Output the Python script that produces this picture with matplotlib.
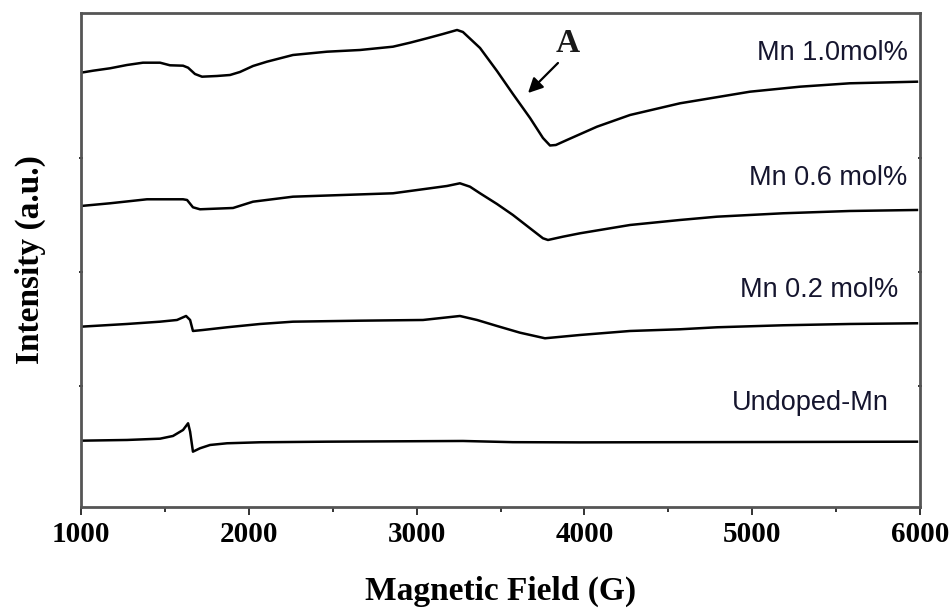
import matplotlib
matplotlib.use("Agg")
import matplotlib.pyplot as plt
from matplotlib.ticker import MultipleLocator

# ---- data (Magnetic field in G, intensity in arbitrary units) ----
field_mn10 = [1000, 1072, 1173, 1274, 1369, 1471, 1530, 1608, 1638, 1679, 1721, 1810, 1888,
              1947, 2025, 2108, 2263, 2466, 2663, 2859, 2961, 3062, 3157, 3241, 3276, 3378,
              3479, 3574, 3676, 3753, 3795, 3830, 3896, 4075, 4272, 4570, 4689, 4987,
              5285, 5582, 5982]
int_mn10 = [434.3, 436.3, 438.7, 442.0, 444.3, 444.3, 441.7, 441.3, 439.3, 433.0, 430.3, 431.0,
            432.0, 435.0, 441.0, 445.3, 452.0, 455.3, 457.0, 460.3, 464.3, 468.7, 473.0, 477.0,
            475.0, 459.0, 436.0, 413.0, 389.0, 369.0, 361.5, 362.0, 367.0, 380.3, 392.0,
            403.7, 407.0, 415.3, 420.3, 423.7, 425.3]

field_mn06 = [1000, 1173, 1393, 1608, 1632, 1667, 1709, 1906, 2025, 2263, 2561, 2859, 3080,
              3181, 3258, 3318, 3378, 3479, 3574, 3676, 3753, 3783, 3872, 3974, 4272, 4570,
              4790, 5183, 5582, 5982]
int_mn06 = [301.0, 303.7, 307.7, 307.7, 307.0, 299.7, 297.7, 299.0, 305.3, 310.3, 312.0, 313.7,
            318.7, 321.0, 323.7, 320.3, 313.7, 303.0, 292.0, 278.7, 268.7, 267.0, 270.3, 273.7,
            282.0, 287.0, 290.3, 293.7, 296.0, 297.0]

field_mn02 = [1000, 1274, 1471, 1572, 1626, 1650, 1667, 1727, 1870, 2067, 2263, 2663, 3038,
              3258, 3360, 3479, 3616, 3765, 3974, 4272, 4570, 4790, 5183, 5582, 5982]
int_mn02 = [180.3, 183.0, 185.3, 187.0, 191.0, 187.0, 176.0, 177.0, 179.7, 183.0, 185.3, 186.3,
            187.0, 191.0, 187.0, 181.0, 174.3, 168.7, 172.0, 176.0, 177.7, 179.7, 181.7, 183.0,
            183.7]

field_und = [1000, 1274, 1471, 1548, 1608, 1638, 1650, 1667, 1709, 1769, 1870, 2067, 2466,
             3276, 3574, 3974, 5183, 5982]
int_und = [66.3, 67.0, 68.3, 71.0, 77.0, 83.7, 75.3, 55.3, 58.7, 62.0, 63.7, 64.7, 65.3,
           66.0, 64.8, 64.6, 65.0, 65.3]

series_labels = ["Mn 1.0mol%", "Mn 0.6 mol%", "Mn 0.2 mol%", "Undoped-Mn"]
x_ticks = [1000, 2000, 3000, 4000, 5000, 6000]
x_label = "Magnetic Field (G)"
y_label = "Intensity (a.u.)"
peak_label = "A"

# ---- figure ----
fig = plt.figure(figsize=(9.5, 6.1), dpi=100)
ax = fig.add_axes([0.0853, 0.1689, 0.8831, 0.8098])

serif = ["Liberation Serif", "DejaVu Serif"]
sans = ["Liberation Sans", "DejaVu Sans"]

for xs, ys in [(field_mn10, int_mn10), (field_mn06, int_mn06),
               (field_mn02, int_mn02), (field_und, int_und)]:
    ax.plot(xs, ys, color="black", lw=1.8, solid_joinstyle="round")

ax.set_xlim(1000, 6000)
ax.set_ylim(0, 494)
ax.set_xticks(x_ticks)
ax.set_xticklabels([str(t) for t in x_ticks])
ax.xaxis.set_minor_locator(MultipleLocator(500))
ax.set_yticks([121, 235, 349])
ax.set_yticklabels([])

ax.tick_params(axis="x", which="major", direction="out", length=6, width=1.4,
               color="#333333", pad=4)
ax.tick_params(axis="x", which="minor", direction="out", length=3.5, width=1.4,
               color="#333333")
ax.tick_params(axis="y", which="major", direction="inout", length=3, width=1.4,
               color="#333333", left=True, right=True)
for lab in ax.get_xticklabels():
    lab.set_fontfamily(serif)
    lab.set_fontweight("bold")
    lab.set_fontsize(21)

for sp in ax.spines.values():
    sp.set_color("#555555")
    sp.set_linewidth(2.0)

ax.set_xlabel(x_label, fontfamily=serif, fontweight="bold", fontsize=24, labelpad=20)
ax.set_ylabel(y_label, fontfamily=serif, fontweight="bold", fontsize=24, labelpad=20)

txt_color = "#15152e"
label_pos = [(0.9857, 0.919), (0.9845, 0.666), (0.9738, 0.439), (0.963, 0.2105)]
for lab, (lx, ly) in zip(series_labels, label_pos):
    ax.text(lx, ly, lab, transform=ax.transAxes, ha="right", va="center",
            fontfamily=sans, fontsize=19.5, color=txt_color)

ax.text(0.5805, 0.939, peak_label, transform=ax.transAxes, ha="center", va="center",
        fontfamily=serif, fontweight="bold", fontsize=24, color="#1a1a1a")
ax.annotate("", xy=(0.5328, 0.838), xycoords="axes fraction",
            xytext=(0.5685, 0.8988), textcoords="axes fraction",
            arrowprops=dict(arrowstyle="-|>", color="black", lw=1.6, mutation_scale=22,
                            shrinkA=0, shrinkB=0))

fig.savefig("out.png", dpi=100)
